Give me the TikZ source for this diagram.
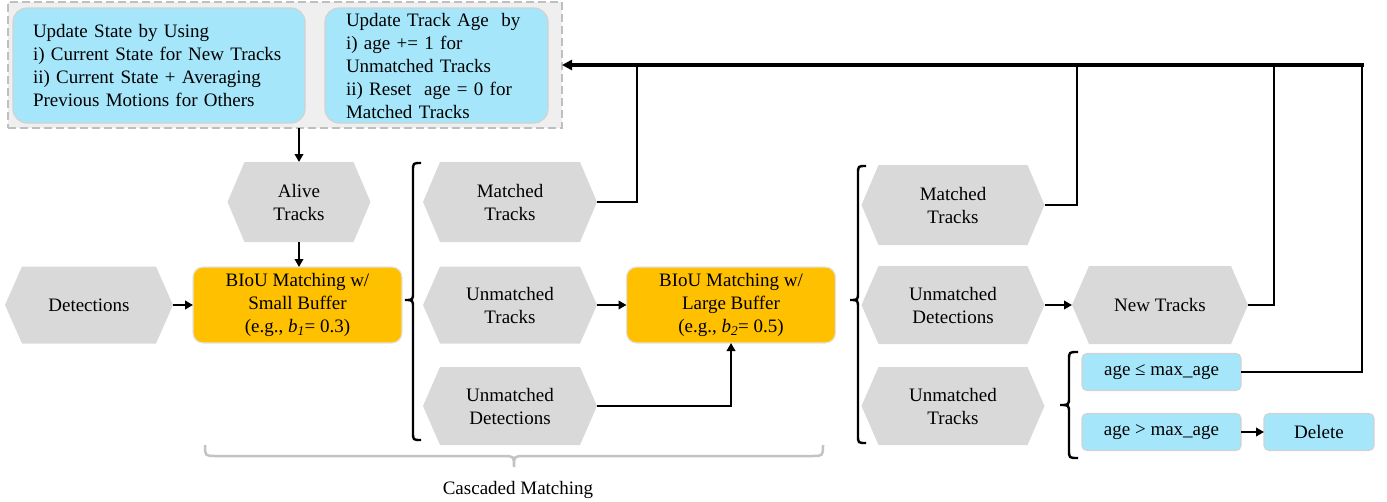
\documentclass[tikz,border=0pt]{standalone}
\usepackage{fontspec}
\setmainfont{Liberation Serif}
\usetikzlibrary{arrows.meta}
\definecolor{hexgrey}{RGB}{217,217,217}
\definecolor{boxblue}{RGB}{166,230,251}
\definecolor{boxorange}{RGB}{255,192,0}
\definecolor{contgrey}{RGB}{239,239,239}
\definecolor{dashgrey}{RGB}{191,191,191}
\definecolor{bordergrey}{RGB}{210,210,210}
\definecolor{bracegrey}{RGB}{195,195,195}
% name, x, y, w, h, text
\newcommand\hexnode[6]{%
  \fill[hexgrey] ({#2-#4/2},#3) -- ({#2-#4/2+17},{#3-#5/2}) -- ({#2+#4/2-17},{#3-#5/2})
     -- ({#2+#4/2},#3) -- ({#2+#4/2-17},{#3+#5/2}) -- ({#2-#4/2+17},{#3+#5/2}) -- cycle;
  \node[hextext, minimum width=#4pt, minimum height=#5pt] (#1) at (#2,#3) {#6};
}
% tip x, end x, ytop, ymid, ybot
\newcommand\mybrace[5]{%
  \draw[bracestyle] (#2,#3) .. controls ({(#1+#2)/2},#3) .. ({(#1+#2)/2},{#3+8})
    -- ({(#1+#2)/2},{#4-8}) .. controls ({(#1+#2)/2},#4) .. (#1,#4)
    .. controls ({(#1+#2)/2},#4) .. ({(#1+#2)/2},{#4+8})
    -- ({(#1+#2)/2},{#5-8}) .. controls ({(#1+#2)/2},#5) .. (#2,#5);
}
\begin{document}
\begin{tikzpicture}[x=1pt,y=-1pt,
  font=\fontsize{19}{23}\selectfont,
  hextext/.style={align=center, inner sep=0pt, outer sep=0pt},
  bluebox/.style={fill=boxblue, draw=bordergrey, line width=1.2pt, rounded corners=14pt, outer sep=0pt},
  smallblue/.style={fill=boxblue, draw=bordergrey, line width=1.2pt, rounded corners=5pt, inner sep=0pt, outer sep=0pt, minimum height=37pt},
  orangebox/.style={fill=boxorange, draw=bordergrey!60!white, line width=1.2pt, rounded corners=10pt, align=center, inner sep=0pt, outer sep=0pt, minimum width=209pt, minimum height=76pt},
  conn/.style={line width=2.4pt, draw=black},
  arr/.style={conn, -{Triangle[length=8pt,width=8.5pt]}},
  bracestyle/.style={line width=2.4pt, draw=black},
]
\useasboundingbox (0,0) rectangle (1387,501);

% top container
\node[fill=contgrey, draw=dashgrey, line width=2pt, dash pattern=on 8pt off 4pt,
      minimum width=554pt, minimum height=126pt, inner sep=0pt, outer sep=0pt] (cont) at (285,65) {};
\node[bluebox, text width=252pt, inner xsep=20pt, inner ysep=0pt, minimum height=115pt, align=left] (upd) at (159,65.5)
  {Update State by Using\\ i) Current State for New Tracks\\ ii) Current State + Averaging\\ Previous Motions for Others};
\node[bluebox, text width=181pt, inner xsep=21pt, inner ysep=0pt, minimum height=115pt, align=left] (age) at (436.5,65.5)
  {Update Track Age\ \ by\\ i) age += 1 for\\ Unmatched Tracks\\ ii) Reset\ \ age = 0 for\\ Matched Tracks};

% hexagons
\hexnode{alive}{299}{202}{143}{80}{Alive\\Tracks}
\hexnode{det}{89}{305}{168}{77}{Detections}
\hexnode{mt1}{510}{202}{174}{80}{Matched\\Tracks}
\hexnode{ut1}{510}{305}{174}{77}{Unmatched\\Tracks}
\hexnode{ud1}{510}{406}{174}{78}{Unmatched\\Detections}
\hexnode{mt2}{953}{205}{183}{80}{Matched\\Tracks}
\hexnode{ud2}{953}{305}{183}{78}{Unmatched\\Detections}
\hexnode{ut2}{953}{406}{183}{78}{Unmatched\\Tracks}
\hexnode{nt}{1160}{305}{176}{78}{New Tracks}

% matching boxes
\node[orangebox] (b1) at (297.5,305) {BIoU Matching w/\\ Small Buffer\\ (e.g., \textit{b}\textsubscript{\textit{1}}= 0.3)};
\node[orangebox] (b2) at (731,305) {BIoU Matching w/\\ Large Buffer\\ (e.g., \textit{b}\textsubscript{\textit{2}}= 0.5)};

% age boxes
\node[smallblue, minimum width=159pt] (agele) at (1161.5,372) {age ≤ max\_age};
\node[smallblue, minimum width=159pt] (agegt) at (1161.5,432) {age > max\_age};
\node[smallblue, minimum width=110pt] (del) at (1319,432) {Delete};

% braces
\mybrace{405}{421}{163}{300}{440}
\mybrace{850}{866}{166}{300}{443}
\mybrace{1060}{1078}{352}{405}{458}
\draw[draw=bracegrey, line width=2.5pt] (205,445) .. controls (205,456) .. (216,456) -- (503,456)
   .. controls (514,456) .. (514,467) .. controls (514,456) .. (525,456) -- (812,456)
   .. controls (823,456) .. (823,445);
\node[inner sep=0pt] (casc) at (518,490) {Cascaded Matching};

% junction coordinates on the feedback line
\coordinate (j1) at (637,65);
\coordinate (j2) at (1077,65);
\coordinate (j3) at (1274,65);
\coordinate (rc) at (1362,65);

% connectors
\draw[arr] (cont.south -| alive) -- (alive.north);
\draw[arr] (alive.south) -- (alive.south |- b1.north);
\draw[arr] (det.east) -- (b1.west);
\draw[arr] (ut1.east) -- (b2.west);
\draw[arr] (ud1.east) -| (b2.south);
\draw[arr] (ud2.east) -- (nt.west);
\draw[arr] (agegt.east) -- (del.west);
\draw[conn] (mt1.east) -| (j1);
\draw[conn] (mt2.east) -| (j2);
\draw[conn] (nt.east) -| (j3);
\draw[conn] (agele.east) -| (rc);
\draw[line width=3.2pt, line cap=rect, -{Triangle[length=10pt,width=10pt]}] (rc) -- (cont.east);
\end{tikzpicture}
\end{document}
